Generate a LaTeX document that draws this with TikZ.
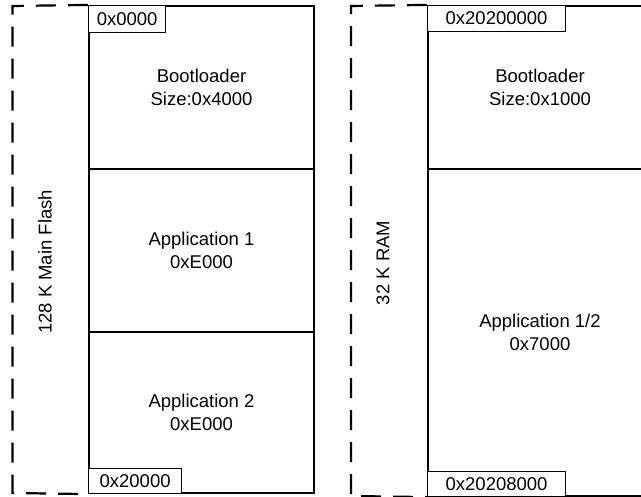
\documentclass[tikz,border=0pt]{standalone}
\usepackage{fontspec}
\setmainfont{Liberation Sans}
\begin{document}
\begin{tikzpicture}[x=1pt,y=-1pt,
  txt/.style={font=\fontsize{18.5}{23}\selectfont},
  blk/.style={txt, draw, line width=2.2pt, inner sep=0pt, align=center},
  addr/.style={txt, draw, fill=white, line width=1.4pt, inner sep=0pt},
  outline/.style={line width=2.2pt, dash pattern=on 20pt off 12pt}]
\useasboundingbox (0,0) rectangle (641,497);
\clip (0,0) rectangle (641,497);
% left: main flash
\node[blk, minimum width=225pt, minimum height=163pt] (boot) at (201.5,87.5) {Bootloader\\Size:0x4000};
\node[blk, minimum width=225pt, minimum height=163pt] (app1) at (201.5,250.5) {Application 1\\0xE000};
\node[blk, minimum width=225pt, minimum height=161pt] (app2) at (201.5,412.5) {Application 2\\0xE000};
\coordinate (fl1) at (12.5,6);
\coordinate (fl2) at (12.5,493);
\draw[outline] (boot.north west) -- (fl1) -- (fl2) -- (app2.south west);
\node[addr, anchor=north west, minimum width=77pt, minimum height=27pt] (a0) at (boot.north west) {0x0000};
\node[addr, anchor=south west, minimum width=93pt, minimum height=25pt] (a1) at (app2.south west) {0x20000};
\node[txt, rotate=90] (flash) at (45,262) {128 K Main Flash};
% right: RAM
\node[blk, minimum width=224pt, minimum height=163pt] (rboot) at (540,87.5) {Bootloader\\Size:0x1000};
\node[blk, minimum width=224pt, minimum height=327pt] (rapp) at (540,332.5) {Application 1/2\\0x7000};
\coordinate (rl1) at (351,6);
\coordinate (rl2) at (351,496);
\draw[outline] (rboot.north west) -- (rl1) -- (rl2) -- (rapp.south west);
\node[addr, anchor=north west, minimum width=138pt, minimum height=26pt] (r0) at (rboot.north west) {0x20200000};
\node[addr, anchor=south west, minimum width=138pt, minimum height=25pt] (r1) at (rapp.south west) {0x20208000};
\node[txt, rotate=90] (ram) at (383,263) {32 K RAM};
\end{tikzpicture}
\end{document}
